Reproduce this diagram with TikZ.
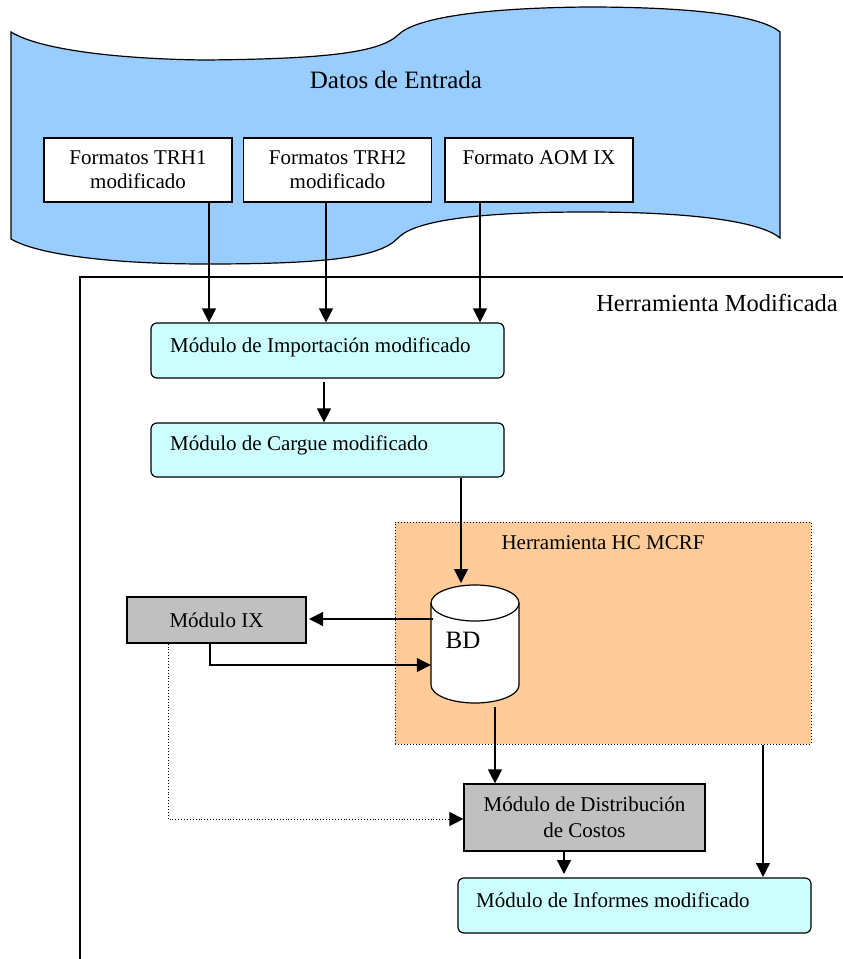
\documentclass[tikz,border=0pt]{standalone}
\usepackage{fontspec}
\setmainfont{Liberation Serif}
\usetikzlibrary{arrows.meta,calc}
\definecolor{bannerblue}{HTML}{99CCFF}
\definecolor{modcyan}{HTML}{CCFFFF}
\definecolor{hcorange}{HTML}{FFCC99}
\definecolor{modgray}{HTML}{C0C0C0}
\tikzset{
  txt/.style={font=\fontsize{21}{24}\selectfont, inner sep=0pt},
  bigtxt/.style={font=\fontsize{25}{28}\selectfont, inner sep=0pt},
  fmtbox/.style={draw, line width=1.2pt, fill=white, inner sep=0pt, align=center,
    font=\fontsize{21}{24}\selectfont, minimum width=188pt, minimum height=64pt},
  cyanbox/.style={draw, line width=1.2pt, fill=modcyan, rounded corners=6pt, inner sep=0pt,
    minimum width=353pt},
  graybox/.style={draw, line width=1.2pt, fill=modgray, inner sep=0pt, align=center,
    font=\fontsize{21}{26}\selectfont},
  arr/.style={line width=1.2pt, -{Triangle[width=14pt,length=14pt]}}
}
\begin{document}
\begin{tikzpicture}[x=1pt,y=-1pt]
\useasboundingbox (0,0) rectangle (843,959);

% Banner (input data)
\draw[line width=1.2pt, fill=bannerblue]
  (11,32) .. controls (40,50) and (120,59) .. (204,60)
  .. controls (330,59) and (380,52) .. (398,35)
  .. controls (415,18) and (480,8) .. (587,7)
  .. controls (690,7) and (760,15) .. (780,32)
  -- (780,238)
  .. controls (760,221) and (690,212) .. (587,212)
  .. controls (480,212) and (415,220) .. (398,238)
  .. controls (380,257) and (330,264) .. (206,264)
  .. controls (120,264) and (40,256) .. (11,239)
  -- cycle;
\node[bigtxt] (datos) at (396,80) {Datos de Entrada};

\node[fmtbox] (fmt1) at (138,170) {Formatos TRH1\\modificado};
\node[fmtbox] (fmt2) at (337.5,170) {Formatos TRH2\\modificado};
\node[fmtbox] (fmt3) at (539,170) {Formato AOM IX\\\mbox{}};

% Frame of the modified tool
\coordinate (frTR) at (843,277);
\coordinate (frTL) at (80,277);
\coordinate (frBL) at (80,959);
\draw[line width=1.2pt] (frTR) -- (frTL) -- (frBL);
\node[font=\fontsize{24.5}{28}\selectfont, inner sep=0pt] (herrmod) at (717,303) {Herramienta Modificada};

% Import and load modules
\node[cyanbox, minimum height=55pt] (imp) at (327.5,350.5) {};
\node[txt, anchor=west] (impT) at (170,347) {Módulo de Importación modificado};
\node[cyanbox, minimum height=54pt] (car) at (327.5,450) {};
\node[txt, anchor=west] (carT) at (170,445) {Módulo de Cargue modificado};

% HC MCRF tool
\node[draw, dotted, line width=1pt, fill=hcorange, minimum width=416pt, minimum height=222pt, inner sep=0pt] (hc) at (603,633) {};
\node[txt] (hcT) at (603,543) {Herramienta HC MCRF};

% BD cylinder
\node[minimum width=88pt, minimum height=118pt, inner sep=0pt] (bd) at (475,644) {};
\draw[line width=1.2pt, fill=white]
  (431,603) -- (431,685) arc[start angle=180, end angle=360, x radius=44pt, y radius=18pt]
  -- (519,603) arc[start angle=0, end angle=180, x radius=44pt, y radius=18pt] -- cycle;
\draw[line width=1.2pt] (431,603) arc[start angle=180, end angle=360, x radius=44pt, y radius=18pt];
\node[bigtxt] (bdT) at (463,640) {BD};

% Module IX
\node[graybox, minimum width=179pt, minimum height=46pt] (ix) at (216.5,620) {Módulo IX};

% Distribution
\node[graybox, minimum width=241pt, minimum height=67pt] (dist) at (584.5,817.5) {Módulo de Distribución\\de Costos};

% Reports
\node[cyanbox, minimum height=55pt] (inf) at (634.5,905.5) {};
\node[txt, anchor=west] (infT) at (476,900) {Módulo de Informes modificado};

% Connectors
\draw[arr] (209,0 |- fmt1.south) -- (209,0 |- imp.north);
\draw[arr] (326,0 |- fmt2.south) -- (326,0 |- imp.north);
\draw[arr] (480,0 |- fmt3.south) -- (480,0 |- imp.north);
\draw[arr] (324,382) -- (324,0 |- car.north);
\draw[arr] (461,0 |- car.south) -- (461,583);
\draw[arr] (433,619) -- (309,619);
\draw[arr] (210,0 |- ix.south) |- (bd.west |- 0,665);
\draw[line width=0.9pt, dotted, -{Triangle[width=14pt,length=14pt]}] (168,0 |- ix.south) |- (dist.west |- 0,819);
\draw[arr] (495,707) -- (495,0 |- dist.north);
\draw[arr] (564,0 |- dist.south) -- (564,874);
\draw[arr] (763,0 |- hc.south) -- (763,877);
\end{tikzpicture}
\end{document}
